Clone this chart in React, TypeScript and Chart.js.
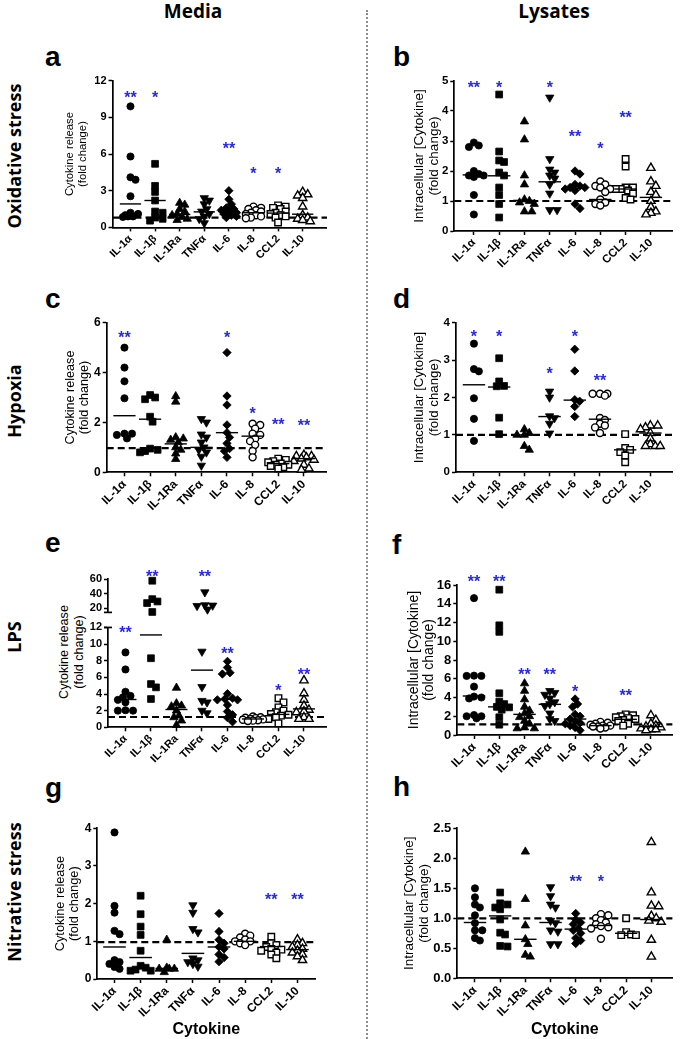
import React, { useEffect, useRef } from 'react';
import { Chart, registerables } from 'chart.js';

Chart.register(...registerables);

// ---------------- DATA ----------------
const CATEGORIES = ['IL-1α', 'IL-1β', 'IL-1Ra', 'TNFα', 'IL-6', 'IL-8', 'CCL2', 'IL-10'];
const MEDIA_TITLE = ['Cytokine release', '(fold change)'];
const LYSATE_TITLE = ['Intracellular [Cytokine]', '(fold change)'];
const X_TITLE = 'Cytokine';
const COLUMN_HEADERS = ['Media', 'Lysates'];
const ROW_LABELS = ['Oxidative stress', 'Hypoxia', 'LPS', 'Nitrative stress'];
const PANEL_LETTERS = ['a', 'b', 'c', 'd', 'e', 'f', 'g', 'h'];

// a: Oxidative stress, media
const A_VALUES = [
  [9.9, 5.8, 4.1, 3.9, 2.55, 1.2, 1.1, 1.0, 0.9, 0.9, 0.85],
  [5.2, 3.4, 2.9, 2.2, 1.3, 1.2, 0.8, 0.7, 0.55],
  [2.0, 1.85, 1.5, 1.3, 1.1, 1.0, 0.85, 0.7, 0.6],
  [2.4, 2.2, 1.9, 1.5, 1.3, 1.1, 0.9, 0.7, 0.35],
  [3.0, 2.3, 1.9, 1.6, 1.5, 1.4, 1.3, 1.2, 1.1, 1.0, 0.9, 0.8],
  [1.7, 1.6, 1.5, 1.4, 1.3, 1.2, 1.1, 1.0, 0.9, 0.8, 0.75],
  [1.8, 1.7, 1.6, 1.5, 1.3, 1.2, 1.1, 1.0, 0.9, 0.8, 0.4],
  [2.9, 2.7, 2.6, 2.4, 1.7, 1.0, 0.8, 0.7, 0.6, 0.5],
];
const A_MEDIANS = [1.92, 2.2, 1.06, 1.27, 1.3, 1.2, 1.17, 1.08];
const A_STARS = ['**', '*', '', '', '**', '*', '*', ''];
const A_STAR_LEVELS = [10.95, 10.95, 0, 0, 6.8, 4.75, 4.75, 0];
const A_BASELINE = 0.8;
const A_TICKS = [0, 3, 6, 9, 12];

// b: Oxidative stress, lysates
const B_VALUES = [
  [2.95, 2.85, 2.8, 2.0, 1.9, 1.85, 1.85, 1.8, 1.2, 0.55],
  [4.55, 2.65, 2.35, 2.3, 1.95, 1.85, 1.45, 1.2, 0.9, 0.45],
  [3.65, 3.05, 1.85, 1.55, 1.05, 1.0, 0.95, 0.9, 0.65, 0.65],
  [4.45, 2.4, 2.05, 1.95, 1.85, 1.75, 1.55, 1.25, 0.7, 0.7],
  [2.0, 1.9, 1.55, 1.5, 1.45, 1.45, 1.4, 1.35, 0.9, 0.75],
  [1.65, 1.55, 1.5, 1.45, 1.4, 1.3, 1.05, 0.95, 0.9, 0.85],
  [2.4, 2.15, 1.45, 1.45, 1.4, 1.4, 1.35, 1.25, 1.1, 1.05],
  [2.1, 1.65, 1.5, 1.3, 1.2, 1.0, 0.8, 0.65, 0.6, 0.55],
];
const B_MEDIANS = [1.87, 1.84, 1.02, 1.64, 1.42, 1.05, 1.4, 1.12];
const B_STARS = ['**', '*', '', '*', '**', '*', '**', ''];
const B_STAR_LEVELS = [4.9, 4.9, 0, 4.9, 3.29, 2.89, 3.9, 0];
const B_BASELINE = 1.0;
const B_TICKS = [0, 1, 2, 3, 4, 5];

// c: Hypoxia, media
const C_VALUES = [
  [5.0, 4.2, 3.65, 2.97, 1.55, 1.55, 1.5, 1.36],
  [3.1, 3.0, 2.93, 2.23, 2.03, 0.95, 0.9, 0.85, 0.8],
  [3.05, 2.83, 1.4, 1.35, 1.3, 1.2, 1.0, 0.9, 0.75, 0.53],
  [2.14, 2.0, 1.52, 1.4, 1.2, 1.0, 0.9, 0.8, 0.63, 0.27],
  [4.8, 3.06, 2.7, 1.9, 1.59, 1.4, 1.16, 0.95, 0.85, 0.6],
  [1.95, 1.9, 1.75, 1.55, 1.5, 1.35, 1.25, 1.1, 0.85, 0.6],
  [0.55, 0.5, 0.45, 0.4, 0.35, 0.3, 0.3, 0.25, 0.2, 0.15],
  [0.7, 0.65, 0.65, 0.6, 0.55, 0.5, 0.45, 0.3, 0.15, 0.1],
];
const C_MEDIANS = [2.27, 2.13, 1.14, 1.0, 1.59, 1.45, 0.35, 0.55];
const C_STARS = ['**', '', '', '', '*', '*', '**', '**'];
const C_STAR_LEVELS = [5.57, 0, 0, 0, 5.57, 2.5, 2.06, 2.04];
const C_BASELINE = 0.97;
const C_TICKS = [0, 2, 4, 6];

// d: Hypoxia, lysates
const D_VALUES = [
  [3.44, 2.76, 2.7, 1.98, 1.43, 0.84],
  [3.05, 2.43, 2.31, 2.3, 1.46, 1.02],
  [1.15, 1.05, 1.0, 1.0, 0.7, 0.6],
  [2.16, 2.0, 1.5, 1.45, 1.3, 1.04],
  [3.29, 2.71, 1.94, 1.9, 1.76, 1.49],
  [2.1, 2.1, 2.1, 2.05, 1.45, 1.4, 1.3, 1.25, 1.2, 1.05],
  [1.02, 0.65, 0.6, 0.54, 0.45, 0.27],
  [1.25, 1.25, 1.2, 1.15, 1.05, 0.9, 0.75, 0.7, 0.7, 0.7],
];
const D_MEDIANS = [2.34, 2.28, 1.0, 1.49, 1.93, 1.42, 0.6, 1.05];
const D_STARS = ['*', '*', '', '*', '*', '**', '', ''];
const D_STAR_LEVELS = [3.74, 3.74, 0, 2.74, 3.74, 2.56, 0, 0];
const D_BASELINE = 1.0;
const D_TICKS = [0, 1, 2, 3, 4];

// e: LPS, media (broken axis)
const E_VALUES = [
  [9.0, 6.95, 4.27, 3.77, 3.6, 3.3, 3.0, 2.05, 2.0, 2.0],
  [58, 32.4, 29.1, 26.9, 14.5, 8.3, 5.2, 4.8, 3.4],
  [4.74, 2.87, 2.6, 2.5, 2.0, 1.4, 1.2, 0.8, 0.27],
  [42, 24, 23.5, 23, 18, 9.1, 4.85, 3.18, 3.0, 2.0, 1.7],
  [7.92, 7.18, 6.56, 6.4, 4.04, 3.5, 3.4, 3.3, 3.3, 2.68, 1.9, 1.5, 1.16, 0.66],
  [1.3, 1.2, 1.15, 1.1, 1.0, 0.95, 0.9, 0.85, 0.8, 0.75],
  [3.5, 3.0, 2.4, 2.0, 1.8, 1.6, 1.5, 1.4, 1.2, 1.0, 0.47],
  [5.63, 4.08, 3.3, 2.6, 2.1, 1.9, 1.8, 1.2, 1.0, 1.0],
];
const E_MEDIANS = [3.34, 11.1, 2.14, 6.87, 3.35, 1.0, 1.55, 2.21];
const E_STARS = ['**', '**', '', '**', '**', '', '*', '**'];
const E_STAR_LEVELS = [11.8, 69, 0, 69, 9.3, 0, 4.93, 6.8];
const E_BASELINE = 1.24;
const E_TICKS_LOW = [0, 2, 4, 6, 8, 10, 12];
const E_TICKS_HIGH = [20, 40, 60];
const E_SPLIT = 12.5;

// f: LPS, lysates
const F_VALUES = [
  [14.6, 6.33, 6.3, 6.3, 5.16, 4.1, 4.0, 3.9, 2.13, 2.0, 2.0, 1.78],
  [15.5, 11.7, 11.0, 4.45, 3.56, 3.3, 3.0, 2.95, 2.7, 1.89, 1.1],
  [5.5, 4.7, 3.8, 3.0, 2.6, 2.3, 2.0, 1.9, 1.5, 1.2, 0.8, 0.7, 0.7],
  [4.7, 4.5, 4.3, 3.9, 3.5, 3.3, 3.1, 2.3, 1.7, 1.5],
  [3.84, 3.3, 3.0, 2.2, 2.0, 1.7, 1.5, 1.3, 1.2, 1.0, 0.8, 0.5],
  [1.4, 1.3, 1.2, 1.1, 1.0, 1.0, 0.9, 0.9, 0.8, 0.7],
  [2.2, 2.1, 2.0, 1.9, 1.8, 1.7, 1.6, 1.5, 1.2, 1.0],
  [2.1, 1.6, 1.2, 1.0, 0.9, 0.8, 0.7, 0.6, 0.6, 0.5],
];
const F_MEDIANS = [4.16, 3.0, 2.2, 3.27, 1.7, 1.0, 1.67, 0.9];
const F_STARS = ['**', '**', '**', '**', '*', '', '**', ''];
const F_STAR_LEVELS = [16.8, 16.8, 6.83, 6.83, 5.05, 0, 4.6, 0];
const F_BASELINE = 1.14;
const F_TICKS = [0, 2, 4, 6, 8, 10, 12, 14, 16];

// g: Nitrative stress, media
const G_VALUES = [
  [3.89, 1.94, 1.76, 1.28, 1.19, 0.5, 0.45, 0.4, 0.32, 0.27],
  [2.21, 1.72, 1.39, 1.17, 0.75, 0.35, 0.3, 0.25, 0.22, 0.22],
  [1.04, 0.3, 0.27, 0.27, 0.27, 0.18],
  [1.96, 1.76, 1.33, 1.24, 0.55, 0.5, 0.45, 0.4, 0.33],
  [1.74, 1.26, 1.04, 0.95, 0.85, 0.8, 0.65, 0.57, 0.46],
  [1.2, 1.15, 1.1, 1.05, 1.0, 1.0, 0.95, 0.9],
  [1.12, 0.95, 0.9, 0.85, 0.8, 0.78, 0.75, 0.7, 0.65, 0.55],
  [1.05, 0.95, 0.9, 0.85, 0.8, 0.75, 0.7, 0.65, 0.6, 0.5],
];
const G_MEDIANS = [0.85, 0.57, 0.28, 0.68, 0.85, 1.0, 0.86, 0.78];
const G_STARS = ['', '', '', '', '', '', '**', '**'];
const G_STAR_LEVELS = [0, 0, 0, 0, 0, 0, 2.2, 2.2];
const G_BASELINE = 0.98;
const G_TICKS = [0, 1, 2, 3, 4];

// h: Nitrative stress, lysates
const H_VALUES = [
  [1.5, 1.35, 1.23, 1.18, 1.05, 0.92, 0.8, 0.8, 0.67, 0.63],
  [1.43, 1.25, 1.23, 1.18, 1.15, 0.98, 0.76, 0.73, 0.54, 0.53],
  [2.11, 1.32, 0.88, 0.65, 0.57, 0.39, 0.36],
  [1.52, 1.37, 1.23, 1.18, 0.96, 0.92, 0.8, 0.78, 0.57, 0.57],
  [1.08, 0.98, 0.93, 0.9, 0.83, 0.8, 0.75, 0.67, 0.63, 0.58],
  [1.07, 1.05, 1.0, 0.97, 0.93, 0.9, 0.87, 0.85, 0.83, 0.66],
  [1.0, 0.77, 0.73, 0.72, 0.72],
  [2.27, 1.43, 1.21, 1.2, 1.04, 1.0, 0.96, 0.94, 0.64, 0.36],
];
const H_MEDIANS = [0.93, 1.04, 0.65, 0.93, 0.82, 0.88, 0.75, 0.98];
const H_STARS = ['', '', '', '', '**', '*', '', ''];
const H_STAR_LEVELS = [0, 0, 0, 0, 1.68, 1.68, 0, 0];
const H_BASELINE = 1.0;
const H_TICKS = [0, 0.5, 1, 1.5, 2, 2.5];

// ---------------- STYLE / LAYOUT ----------------
const SANS = '"Liberation Sans", Arial, Helvetica, sans-serif';
const HEAD = '"Open Sans", "Liberation Sans", sans-serif';
const STAR_COLOR = '#2a2ad6';

const MARKERS = [
  { pointStyle: 'circle', rotation: 0, radius: 3.6, open: false },
  { pointStyle: 'rect', rotation: 0, radius: 4.8, open: false },
  { pointStyle: 'triangle', rotation: 0, radius: 4.8, open: false },
  { pointStyle: 'triangle', rotation: 180, radius: 4.8, open: false },
  { pointStyle: 'rectRot', rotation: 0, radius: 4.2, open: false },
  { pointStyle: 'circle', rotation: 0, radius: 3.5, open: true },
  { pointStyle: 'rect', rotation: 0, radius: 4.6, open: true },
  { pointStyle: 'triangle', rotation: 0, radius: 4.8, open: true },
];

type Box = { l: number; t: number; r: number; b: number };
type Panel = {
  key: string;
  plot: Box;
  cat0: number;
  cat7: number;
  yMin: number;
  yMax: number;
  yTicks: number[];
  decimals: number;
  values: number[][];
  medians: number[] | null;
  baseline: number | null;
  stars: string[];
  starLevels: number[];
  yTitle: string[] | null;
  titleCenter: number;
  titleSize: number;
  tickSize: number;
  showX: boolean;
  xTitle: string | null;
  top: number;
  bottom: number;
  breakMark: 'top' | 'bottom' | null;
};

// Compact beeswarm: points spread sideways within a limited band, overlap allowed when crowded
function swarmOffsets(vals: number[], pxPerUnit: number, maxW: number): number[] {
  const step = 2.6;
  const minD = 5.4;
  const cands: number[] = [0];
  for (let k = 1; k * step <= maxW + 0.01; k++) { cands.push(k * step, -k * step); }
  const order = vals.map((_, i) => i).sort((a, b) => vals[b] - vals[a]);
  const placed: { x: number; y: number }[] = [];
  const out: number[] = vals.map(() => 0);
  for (const i of order) {
    const y = vals[i] * pxPerUnit;
    let best = 0;
    let bestD = -1;
    for (const c of cands) {
      let d = Infinity;
      for (const q of placed) d = Math.min(d, Math.hypot(q.x - c, q.y - y));
      if (d >= minD) { best = c; bestD = d; break; }
      if (d > bestD) { bestD = d; best = c; }
    }
    placed.push({ x: best, y });
    out[i] = best;
  }
  return out;
}

function basePanel(p: Partial<Panel> & { key: string; plot: Box; cat0: number; cat7: number }): Panel {
  return {
    yMin: 0, yMax: 1, yTicks: [], decimals: 0, values: [], medians: null, baseline: null,
    stars: [], starLevels: [], yTitle: null, titleCenter: 0, titleSize: 12, tickSize: 11,
    showX: true, xTitle: null, top: p.plot.t - 22, bottom: p.plot.b + 48, breakMark: null,
    ...p,
  } as Panel;
}

const PANELS: Panel[] = [
  basePanel({
    key: 'a', plot: { l: 112.5, t: 80.7, r: 333.3, b: 227.4 }, cat0: 131, cat7: 308.3,
    yMin: 0, yMax: 12, yTicks: A_TICKS, values: A_VALUES, medians: A_MEDIANS, baseline: A_BASELINE,
    stars: A_STARS, starLevels: A_STAR_LEVELS, yTitle: MEDIA_TITLE, titleCenter: 70, titleSize: 11.3, tickSize: 11,
  }),
  basePanel({
    key: 'b', plot: { l: 454.3, t: 81, r: 685, b: 231 }, cat0: 475, cat7: 662.3,
    yMin: 0, yMax: 5, yTicks: B_TICKS, values: B_VALUES, medians: B_MEDIANS, baseline: B_BASELINE,
    stars: B_STARS, starLevels: B_STAR_LEVELS, yTitle: LYSATE_TITLE, titleCenter: 420, titleSize: 13.5, tickSize: 11.5,
  }),
  basePanel({
    key: 'c', plot: { l: 106.7, t: 322.7, r: 333.3, b: 472.3 }, cat0: 125, cat7: 310,
    yMin: 0, yMax: 6, yTicks: C_TICKS, values: C_VALUES, medians: C_MEDIANS, baseline: C_BASELINE,
    stars: C_STARS, starLevels: C_STAR_LEVELS, yTitle: MEDIA_TITLE, titleCenter: 70, titleSize: 12.6, tickSize: 12,
  }),
  basePanel({
    key: 'd', plot: { l: 456, t: 322.7, r: 685, b: 472.3 }, cat0: 475, cat7: 661.7,
    yMin: 0, yMax: 4, yTicks: D_TICKS, values: D_VALUES, medians: D_MEDIANS, baseline: D_BASELINE,
    stars: D_STARS, starLevels: D_STAR_LEVELS, yTitle: LYSATE_TITLE, titleCenter: 419, titleSize: 13.3, tickSize: 11.5,
  }),
  basePanel({
    key: 'e-high', plot: { l: 108, t: 579.3, r: 333.3, b: 612.7 }, cat0: 126, cat7: 310,
    yMin: 13.9, yMax: 60, yTicks: E_TICKS_HIGH,
    values: E_VALUES.map((a) => a.filter((v) => v > E_SPLIT)),
    stars: E_STARS.map((s, i) => (E_STAR_LEVELS[i] > E_SPLIT ? s : '')), starLevels: E_STAR_LEVELS,
    titleCenter: 70, tickSize: 11, showX: false, top: 565, bottom: 621, breakMark: 'bottom',
  }),
  basePanel({
    key: 'e-low', plot: { l: 108, t: 625, r: 333.3, b: 727.3 }, cat0: 126, cat7: 310,
    yMin: 0, yMax: 12, yTicks: E_TICKS_LOW, values: E_VALUES.map((a) => a.filter((v) => v <= E_SPLIT)),
    medians: E_MEDIANS, baseline: E_BASELINE,
    stars: E_STARS.map((s, i) => (E_STAR_LEVELS[i] <= E_SPLIT ? s : '')), starLevels: E_STAR_LEVELS,
    titleCenter: 70, tickSize: 11, top: 615, breakMark: 'top',
  }),
  basePanel({
    key: 'f', plot: { l: 457.3, t: 585, r: 685, b: 735 }, cat0: 475, cat7: 662.3,
    yMin: 0, yMax: 16, yTicks: F_TICKS, values: F_VALUES, medians: F_MEDIANS, baseline: F_BASELINE,
    stars: F_STARS, starLevels: F_STAR_LEVELS, yTitle: LYSATE_TITLE, titleCenter: 414, titleSize: 14, tickSize: 13,
  }),
  basePanel({
    key: 'g', plot: { l: 97.3, t: 828.3, r: 321.7, b: 979 }, cat0: 115, cat7: 303.3,
    yMin: 0, yMax: 4, yTicks: G_TICKS, values: G_VALUES, medians: G_MEDIANS, baseline: G_BASELINE,
    stars: G_STARS, starLevels: G_STAR_LEVELS, yTitle: MEDIA_TITLE, titleCenter: 60, titleSize: 12.8, tickSize: 12,
    xTitle: X_TITLE, bottom: 1039,
  }),
  basePanel({
    key: 'h', plot: { l: 457.3, t: 828.3, r: 685, b: 978.3 }, cat0: 476, cat7: 662.7,
    yMin: 0, yMax: 2.5, yTicks: H_TICKS, decimals: 1, values: H_VALUES, medians: H_MEDIANS, baseline: H_BASELINE,
    stars: H_STARS, starLevels: H_STAR_LEVELS, yTitle: LYSATE_TITLE, titleCenter: 410, titleSize: 13.5, tickSize: 13,
    xTitle: X_TITLE, bottom: 1039,
  }),
];

function canvasRect(p: Panel) {
  const lh = p.titleSize * 1.12;
  const L = Math.round(p.yTitle ? p.titleCenter - lh / 2 : p.plot.l - 40);
  const T = Math.round(p.top);
  const R = Math.min(685, Math.round(p.plot.r + 6));
  const B = Math.round(p.bottom);
  return { L, T, R, B };
}

function buildConfig(p: Panel) {
  const { L, T, R, B } = canvasRect(p);
  const spacing = (p.cat7 - p.cat0) / 7;
  const xMin = (p.plot.l - p.cat0) / spacing;
  const xMax = (p.plot.r - p.cat0) / spacing;
  const pxPerUnit = (p.plot.b - p.plot.t) / (p.yMax - p.yMin);
  const maxW = Math.min(10.5, spacing * 0.4);
  const datasets: any[] = [];
  if (p.medians) {
    datasets.push({
      data: p.medians.map((m, i) => ({ x: i, y: m })),
      pointStyle: 'line', pointRadius: spacing * 0.42, pointBorderColor: '#000',
      pointBackgroundColor: '#000', pointBorderWidth: 1.4, order: 0, clip: false,
    });
  }
  p.values.forEach((vals, i) => {
    const mk = MARKERS[i];
    const offs = swarmOffsets(vals, pxPerUnit, maxW);
    datasets.push({
      data: vals.map((v, j) => ({ x: i + offs[j] / spacing, y: v })),
      pointStyle: mk.pointStyle, pointRotation: mk.rotation, pointRadius: mk.radius,
      pointBackgroundColor: mk.open ? '#fff' : '#000', pointBorderColor: '#000',
      pointBorderWidth: mk.open ? 1.4 : 0.8, order: 1, clip: false,
    });
  });
  if (p.baseline != null) {
    datasets.push({
      data: [{ x: xMin, y: p.baseline }, { x: xMax, y: p.baseline }],
      showLine: true, borderColor: '#000', borderWidth: 2.2, borderDash: [7, 4],
      pointRadius: 0, order: 2, clip: false,
    });
  }
  const yAxisW = p.plot.l - L;
  const xAxisH = B - p.plot.b;
  const tickFont = { family: SANS, size: p.tickSize, weight: 'bold' as const };
  const xFont = { family: SANS, size: Math.min(p.tickSize, 12), weight: 'bold' as const };
  const decor = {
    id: 'decor',
    afterDatasetsDraw(chart: any) {
      const ctx = chart.ctx;
      const xs = chart.scales.x;
      const ys = chart.scales.y;
      ctx.save();
      const size = 16;
      ctx.font = `bold ${size}px ${SANS}`;
      ctx.fillStyle = STAR_COLOR;
      ctx.textAlign = 'center';
      ctx.textBaseline = 'alphabetic';
      p.stars.forEach((s, i) => {
        if (!s) return;
        ctx.fillText(s, xs.getPixelForValue(i), ys.getPixelForValue(p.starLevels[i]) + size * 0.58);
      });
      if (p.breakMark) {
        const x = chart.chartArea.left;
        const y = p.breakMark === 'bottom' ? chart.chartArea.bottom : chart.chartArea.top;
        ctx.strokeStyle = '#000';
        ctx.lineWidth = 1.7;
        ctx.beginPath();
        ctx.moveTo(x - 4, y);
        ctx.lineTo(x + 4, y);
        ctx.stroke();
      }
      ctx.restore();
    },
  };
  return {
    type: 'scatter' as const,
    data: { datasets },
    options: {
      responsive: false,
      animation: false as const,
      devicePixelRatio: 1,
      events: [],
      layout: { padding: { left: 0, top: p.plot.t - T, right: R - p.plot.r, bottom: p.showX ? 0 : B - p.plot.b } },
      plugins: { legend: { display: false }, tooltip: { enabled: false }, title: { display: false } },
      scales: {
        x: {
          type: 'linear' as const,
          display: p.showX,
          min: xMin,
          max: xMax,
          afterBuildTicks: (s: any) => { s.ticks = CATEGORIES.map((_, i) => ({ value: i })); },
          afterFit: (s: any) => { s.height = p.showX ? xAxisH : 0; },
          ticks: {
            autoSkip: false, minRotation: 45, maxRotation: 45, padding: 1, color: '#000', font: xFont,
            callback: (v: any) => CATEGORIES[Math.round(Number(v))] ?? '',
          },
          grid: { drawOnChartArea: false, drawTicks: true, tickLength: 4, tickWidth: 1.5, tickColor: '#000' },
          border: { display: true, color: '#000', width: 1.7 },
          title: {
            display: !!p.xTitle, text: p.xTitle ?? '', color: '#000', padding: 0,
            font: { family: SANS, size: 16, weight: 'bold' as const, lineHeight: 1.2 },
          },
        },
        y: {
          type: 'linear' as const,
          min: p.yMin,
          max: p.yMax,
          afterBuildTicks: (s: any) => { s.ticks = p.yTicks.map((v) => ({ value: v })); },
          afterFit: (s: any) => { s.width = yAxisW; },
          ticks: {
            padding: 2, color: '#000', font: tickFont,
            callback: (v: any) => Number(v).toFixed(p.decimals),
          },
          grid: { drawOnChartArea: false, drawTicks: true, tickLength: 4, tickWidth: 1.5, tickColor: '#000' },
          border: { display: true, color: '#000', width: 1.7 },
          title: {
            display: !!p.yTitle, text: p.yTitle ?? '', color: '#000', padding: 0,
            font: { family: SANS, size: p.titleSize, lineHeight: 1.12 },
          },
        },
      },
    },
    plugins: [decor],
  };
}

function PanelChart({ p }: { p: Panel }) {
  const ref = useRef<HTMLCanvasElement>(null);
  const { L, T, R, B } = canvasRect(p);
  const w = R - L;
  const h = B - T;
  useEffect(() => {
    if (!ref.current) return;
    const chart = new Chart(ref.current, buildConfig(p) as any);
    return () => chart.destroy();
  }, []);
  return (
    <canvas
      ref={ref}
      width={w}
      height={h}
      style={{ position: 'absolute', left: L, top: T, width: w, height: h }}
    />
  );
}

const HEADER_POS = [193, 554];
const ROW_CENTERS = [156, 401, 637, 892];
const LETTER_POS = [
  [45, 67], [393, 67], [45, 309], [393, 309], [45, 553], [392, 555], [45, 798], [393, 797],
];

export default function App() {
  return (
    <div
      style={{
        position: 'absolute', left: 0, top: 0, width: 685, height: 1039,
        overflow: 'hidden', background: '#fff', fontFamily: SANS, color: '#000',
      }}
    >
      {COLUMN_HEADERS.map((t, i) => (
        <div
          key={t}
          style={{
            position: 'absolute', left: HEADER_POS[i], top: 11, transform: 'translate(-50%, -50%)',
            fontFamily: HEAD, fontWeight: 700, fontSize: 19, lineHeight: 1, whiteSpace: 'nowrap',
          }}
        >
          {t}
        </div>
      ))}
      <div
        style={{
          position: 'absolute', left: 366, top: 10, width: 0, height: 1029,
          borderLeft: '2px dotted #8c8c8c',
        }}
      />
      {ROW_LABELS.map((t, i) => (
        <div
          key={t}
          style={{
            position: 'absolute', left: 13.5, top: ROW_CENTERS[i],
            transform: 'translate(-50%, -50%) rotate(-90deg)',
            fontFamily: HEAD, fontWeight: 700, fontSize: 18, lineHeight: 1, whiteSpace: 'nowrap',
          }}
        >
          {t}
        </div>
      ))}
      {PANEL_LETTERS.map((t, i) => (
        <div
          key={t}
          style={{
            position: 'absolute', left: LETTER_POS[i][0], top: LETTER_POS[i][1] - 23.7,
            fontFamily: SANS, fontWeight: 700, fontSize: 28, lineHeight: '28px',
          }}
        >
          {t}
        </div>
      ))}
      <div
        style={{
          position: 'absolute', left: 70.5, top: 652, transform: 'translate(-50%, -50%) rotate(-90deg)',
          fontFamily: SANS, fontSize: 12.6, lineHeight: '14.5px', textAlign: 'center', whiteSpace: 'nowrap',
        }}
      >
        {MEDIA_TITLE[0]}
        <br />
        {MEDIA_TITLE[1]}
      </div>
      {PANELS.map((p) => (
        <PanelChart key={p.key} p={p} />
      ))}
    </div>
  );
}
